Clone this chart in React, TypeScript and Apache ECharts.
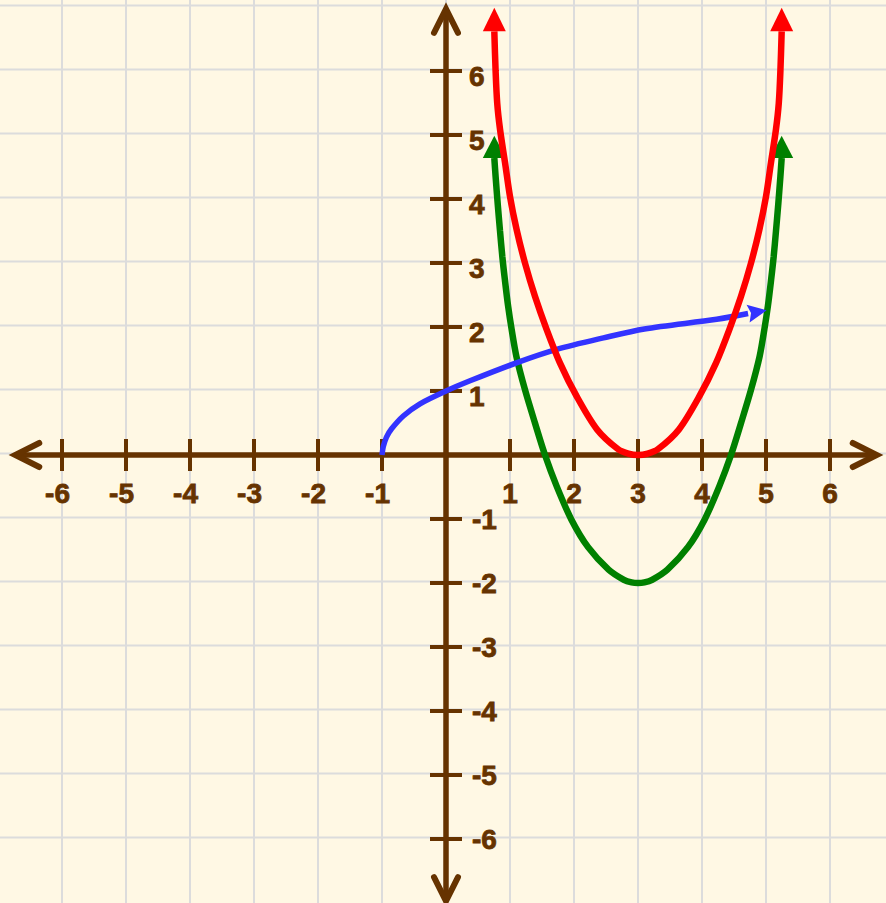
import React, { useEffect, useRef } from "react";
import * as echarts from "echarts";

// ---- grid / ticks ----
const gridXValues = [-6, -5, -4, -3, -2, -1, 0, 1, 2, 3, 4, 5, 6];
const gridYValues = [-6, -5, -4, -3, -2, -1, 0, 1, 2, 3, 4, 5, 6, 7];
const xTickValues = [-6, -5, -4, -3, -2, -1, 1, 2, 3, 4, 5, 6];
const xTickLabels = ["-6", "-5", "-4", "-3", "-2", "-1", "1", "2", "3", "4", "5", "6"];
const yTickValues = [-6, -5, -4, -3, -2, -1, 1, 2, 3, 4, 5, 6];
const yTickLabels = ["-6", "-5", "-4", "-3", "-2", "-1", "1", "2", "3", "4", "5", "6"];

// visible window of the plane
const xRange = [-6.96875, 6.875];
const yRange = [-7.0, 7.109375];

// drawn extent of the two axes (arrow tips)
const xAxisExtent = [-6.73, 6.73];
const yAxisExtent = [-6.97, 6.97];

// ---- curves (first / last points are arrow tips) ----
const redX = [0.755, 0.755, 0.775, 0.8, 0.844, 0.922, 1.0, 1.104, 1.234, 1.39, 1.573, 1.78, 2.04, 2.36, 2.69, 2.85, 3.0, 3.15, 3.31, 3.64, 3.96, 4.22, 4.427, 4.61, 4.766, 4.896, 5.0, 5.078, 5.156, 5.2, 5.225, 5.245, 5.245];
const redY = [6.99, 6.62, 6.0, 5.5, 5.09, 4.57, 4.04, 3.52, 3.0, 2.48, 1.96, 1.44, 0.92, 0.4, 0.09, 0.022, 0.0, 0.022, 0.09, 0.4, 0.92, 1.44, 1.96, 2.48, 3.0, 3.52, 4.04, 4.57, 5.09, 5.5, 6.0, 6.62, 6.99];

const greenX = [0.755, 0.755, 0.775, 0.81, 0.844, 0.88, 0.92, 0.97, 1.026, 1.1, 1.234, 1.39, 1.547, 1.73, 1.96, 2.22, 2.54, 2.78, 2.9, 3.0, 3.1, 3.22, 3.46, 3.78, 4.04, 4.27, 4.453, 4.61, 4.766, 4.9, 4.974, 5.03, 5.08, 5.12, 5.156, 5.19, 5.225, 5.245, 5.245];
const greenY = [4.99, 4.64, 4.35, 3.9, 3.5, 3.1, 2.74, 2.33, 1.96, 1.54, 1.02, 0.5, 0.0, -0.49, -1.01, -1.44, -1.79, -1.95, -1.99, -2.0, -1.99, -1.95, -1.79, -1.44, -1.01, -0.49, 0.0, 0.5, 1.02, 1.54, 1.96, 2.33, 2.74, 3.1, 3.5, 3.9, 4.35, 4.64, 4.99];

const blueX = [-1.0, -0.98, -0.93, -0.85, -0.667, -0.406, 0.0, 0.375, 1.1, 1.73, 2.46, 3.1, 4.23, 4.72, 5.01];
const blueY = [0.0, 0.13, 0.28, 0.41, 0.61, 0.8, 1.0, 1.16, 1.44, 1.65, 1.83, 1.97, 2.12, 2.21, 2.26];

const BROWN = "#663300";
const BG = "#FFF8E4";
const GRID_COLOR = "#DCDCDC";
const RED = "#FF0000";
const GREEN = "#008000";
const BLUE = "#3333FF";
const FONT = "'Liberation Sans', Arial, Helvetica, sans-serif";

function pairs(xs: number[], ys: number[]) {
  return xs.map((x, i) => [x, ys[i]]);
}

function arrowRenderer(half: number, notch: number) {
  return (params: any, api: any) => {
    const tip = api.coord([api.value(0), api.value(1)]);
    const base = api.coord([api.value(2), api.value(3)]);
    const dx = tip[0] - base[0];
    const dy = tip[1] - base[1];
    const len = Math.hypot(dx, dy) || 1;
    const ux = dx / len;
    const uy = dy / len;
    const px = -uy;
    const py = ux;
    const points = [
      tip,
      [base[0] + px * half, base[1] + py * half],
      [base[0] + ux * notch, base[1] + uy * notch],
      [base[0] - px * half, base[1] - py * half],
    ];
    return {
      type: "polygon",
      shape: { points },
      style: { fill: api.visual("color") },
    };
  };
}

export default function App() {
  const ref = useRef<HTMLDivElement>(null);

  useEffect(() => {
    document.body.style.margin = "0";
    const chart = echarts.init(ref.current!, null, { renderer: "svg" });

    const red = pairs(redX, redY);
    const green = pairs(greenX, greenY);
    const blue = pairs(blueX, blueY);

    const redArrows = [
      [...red[0], ...red[1]],
      [...red[red.length - 1], ...red[red.length - 2]],
    ];
    const greenArrows = [
      [...green[0], ...green[1]],
      [...green[green.length - 1], ...green[green.length - 2]],
    ];
    const blueArrows = [[...blue[blue.length - 1], ...blue[blue.length - 2]]];

    const hiddenAxis = {
      type: "value",
      axisLine: { show: false },
      axisTick: { show: false },
      axisLabel: { show: false },
      splitLine: { show: false },
    };

    const labelStyle = {
      fill: BROWN,
      stroke: BROWN,
      lineWidth: 0.8,
      fontSize: 28,
      fontWeight: "bold",
      fontFamily: FONT,
    };

    const option: any = {
      animation: false,
      backgroundColor: BG,
      grid: { left: 0, right: 0, top: 0, bottom: 0, containLabel: false },
      xAxis: { ...hiddenAxis, min: xRange[0], max: xRange[1] },
      yAxis: { ...hiddenAxis, min: yRange[0], max: yRange[1] },
      series: [
        {
          type: "custom",
          name: "gridX",
          z: 1,
          silent: true,
          data: gridXValues.map((v) => [v, 0]),
          renderItem: (params: any, api: any) => {
            const a = api.coord([api.value(0), yRange[0]]);
            const b = api.coord([api.value(0), yRange[1]]);
            return {
              type: "line",
              shape: { x1: a[0], y1: a[1], x2: b[0], y2: b[1] },
              style: { stroke: GRID_COLOR, lineWidth: 2 },
            };
          },
        },
        {
          type: "custom",
          name: "gridY",
          z: 1,
          silent: true,
          data: gridYValues.map((v) => [0, v]),
          renderItem: (params: any, api: any) => {
            const a = api.coord([xRange[0], api.value(1)]);
            const b = api.coord([xRange[1], api.value(1)]);
            return {
              type: "line",
              shape: { x1: a[0], y1: a[1] - 1.5, x2: b[0], y2: b[1] - 1.5 },
              style: { stroke: GRID_COLOR, lineWidth: 2 },
            };
          },
        },
        {
          type: "custom",
          name: "axes",
          z: 2,
          silent: true,
          data: [[0, 0]],
          renderItem: (params: any, api: any) => {
            const xl = api.coord([xAxisExtent[0], 0]);
            const xr = api.coord([xAxisExtent[1], 0]);
            const yb = api.coord([0, yAxisExtent[0]]);
            const yt = api.coord([0, yAxisExtent[1]]);
            const st = { stroke: BROWN, lineWidth: 5.5, fill: null };
            const ch = { stroke: BROWN, lineWidth: 6, fill: null, lineCap: "round", lineJoin: "miter" };
            const L = 24;
            const W = 12;
            return {
              type: "group",
              children: [
                { type: "line", shape: { x1: xl[0] + 3, y1: xl[1], x2: xr[0] - 3, y2: xr[1] }, style: st },
                { type: "line", shape: { x1: yb[0], y1: yb[1] - 3, x2: yt[0], y2: yt[1] + 3 }, style: st },
                { type: "polyline", shape: { points: [[xl[0] + L, xl[1] - W], xl, [xl[0] + L, xl[1] + W]] }, style: ch },
                { type: "polyline", shape: { points: [[xr[0] - L, xr[1] - W], xr, [xr[0] - L, xr[1] + W]] }, style: ch },
                { type: "polyline", shape: { points: [[yt[0] - W, yt[1] + L], yt, [yt[0] + W, yt[1] + L]] }, style: ch },
                { type: "polyline", shape: { points: [[yb[0] - W, yb[1] - L], yb, [yb[0] + W, yb[1] - L]] }, style: ch },
              ],
            };
          },
        },
        {
          type: "custom",
          name: "xTicks",
          z: 2,
          silent: true,
          data: xTickValues.map((v) => [v, 0]),
          renderItem: (params: any, api: any) => {
            const p = api.coord([api.value(0), 0]);
            const label = xTickLabels[params.dataIndex];
            const neg = label.charAt(0) === "-";
            return {
              type: "group",
              children: [
                { type: "line", shape: { x1: p[0], y1: p[1] - 16, x2: p[0], y2: p[1] + 16 }, style: { stroke: BROWN, lineWidth: 4 } },
                {
                  type: "text",
                  x: neg ? p[0] + 8 : p[0],
                  y: p[1] + 38,
                  style: {
                    ...labelStyle,
                    text: label,
                    align: neg ? "right" : "center",
                    verticalAlign: "middle",
                  },
                },
              ],
            };
          },
        },
        {
          type: "custom",
          name: "yTicks",
          z: 2,
          silent: true,
          data: yTickValues.map((v) => [0, v]),
          renderItem: (params: any, api: any) => {
            const p = api.coord([0, api.value(1)]);
            const label = yTickLabels[params.dataIndex];
            const neg = label.charAt(0) === "-";
            return {
              type: "group",
              children: [
                { type: "line", shape: { x1: p[0] - 16, y1: p[1], x2: p[0] + 16, y2: p[1] }, style: { stroke: BROWN, lineWidth: 4 } },
                {
                  type: "text",
                  x: p[0] + (neg ? 26 : 23),
                  y: p[1] + (neg ? 0 : 5),
                  style: {
                    ...labelStyle,
                    text: label,
                    align: "left",
                    verticalAlign: "middle",
                  },
                },
              ],
            };
          },
        },
        {
          type: "line",
          name: "green",
          z: 3,
          data: green.slice(1, green.length - 1),
          smooth: 0.3,
          symbol: "none",
          showSymbol: false,
          silent: true,
          color: GREEN,
          lineStyle: { color: GREEN, width: 6.5, cap: "butt" },
        },
        {
          type: "custom",
          name: "greenArrows",
          z: 3,
          silent: true,
          color: GREEN,
          itemStyle: { color: GREEN },
          data: greenArrows,
          renderItem: arrowRenderer(11.5, 0),
        },
        {
          type: "line",
          name: "blue",
          z: 4,
          data: blue.slice(0, blue.length - 1),
          smooth: 0.3,
          symbol: "none",
          showSymbol: false,
          silent: true,
          color: BLUE,
          lineStyle: { color: BLUE, width: 5.5, cap: "butt" },
        },
        {
          type: "custom",
          name: "blueArrows",
          z: 4,
          silent: true,
          color: BLUE,
          itemStyle: { color: BLUE },
          data: blueArrows,
          renderItem: arrowRenderer(9, 3),
        },
        {
          type: "line",
          name: "red",
          z: 5,
          data: red.slice(1, red.length - 1),
          smooth: 0.3,
          symbol: "none",
          showSymbol: false,
          silent: true,
          color: RED,
          lineStyle: { color: RED, width: 6.5, cap: "butt" },
        },
        {
          type: "custom",
          name: "redArrows",
          z: 5,
          silent: true,
          color: RED,
          itemStyle: { color: RED },
          data: redArrows,
          renderItem: arrowRenderer(11.5, 0),
        },
      ],
    };

    chart.setOption(option);
    return () => {
      chart.dispose();
    };
  }, []);

  return (
    <div
      ref={ref}
      style={{ position: "absolute", left: 0, top: 0, width: 886, height: 903 }}
    />
  );
}
